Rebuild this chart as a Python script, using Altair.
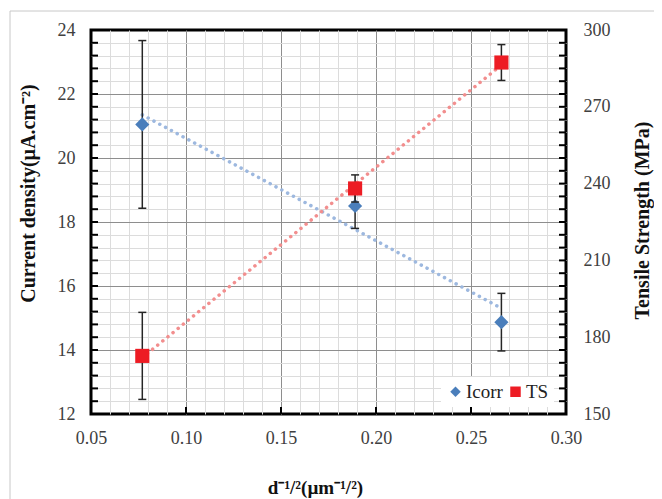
import altair as alt
import pandas as pd

# ---- data ----
x_vals = [0.077, 0.189, 0.266]
icorr_vals = [21.05, 18.5, 14.87]
icorr_err = [2.62, 0.7, 0.9]
ts_vals = [172.7, 238.1, 287.3]
ts_err = [17.0, 5.3, 7.0]

series_names = ["Icorr", "TS"]
series_colors = ["#4A7EBB", "#ED1C24"]
series_shapes = ["diamond", "square"]
trend_colors = ["#9DB8DF", "#F28E8E"]

x_ticks = [0.05, 0.06, 0.07, 0.08, 0.09, 0.10, 0.11, 0.12, 0.13, 0.14, 0.15,
           0.16, 0.17, 0.18, 0.19, 0.20, 0.21, 0.22, 0.23, 0.24, 0.25,
           0.26, 0.27, 0.28, 0.29, 0.30]
x_major_ticks = [0.10, 0.15, 0.20, 0.25]
y_left_ticks = [12, 12.4, 12.8, 13.2, 13.6, 14, 14.4, 14.8, 15.2, 15.6, 16,
                16.4, 16.8, 17.2, 17.6, 18, 18.4, 18.8, 19.2, 19.6, 20,
                20.4, 20.8, 21.2, 21.6, 22, 22.4, 22.8, 23.2, 23.6, 24]
y_right_ticks = [150, 180, 210, 240, 270, 300]
y_right_minor = [155, 160, 165, 170, 175, 185, 190, 195, 200, 205, 215, 220,
                 225, 230, 235, 245, 250, 255, 260, 265, 275, 280, 285, 290, 295]

FONT = "Liberation Serif"
MAJOR = "#8E8E8E"
MINOR = "#DCDCDC"
W, H = 475, 384

df_i = pd.DataFrame({
    "x": x_vals, "y": icorr_vals,
    "lo": [v - e for v, e in zip(icorr_vals, icorr_err)],
    "hi": [v + e for v, e in zip(icorr_vals, icorr_err)],
    "series": series_names[0],
})
df_t = pd.DataFrame({
    "x": x_vals, "y": ts_vals,
    "lo": [v - e for v, e in zip(ts_vals, ts_err)],
    "hi": [v + e for v, e in zip(ts_vals, ts_err)],
    "series": series_names[1],
})

x_axis = alt.Axis(
    values=x_ticks,
    labelExpr="round(datum.value*100) % 5 == 0 ? format(datum.value, '.2f') : ''",
    grid=True,
    gridColor={"condition": {"test": "round(datum.value*100) % 5 == 0", "value": MAJOR},
               "value": MINOR},
    gridOpacity={"condition": {"test": "datum.value < 0.055 || datum.value > 0.295", "value": 0},
                 "value": 1},
    gridWidth=1,
    domain=False, ticks=False,
    labelFont=FONT, labelFontSize=18, labelColor="#404040", labelPadding=15,
    labelFlush=False, labelOverlap=False,
    title="d⁻¹/²(µm⁻¹/²)",
    titleFont=FONT, titleFontSize=19, titleFontWeight="bold", titleColor="#111111",
    titleX=224, titleY=73, titleBaseline="middle", titleAlign="center",
)
x_scale = alt.Scale(domain=[0.05, 0.30], nice=False, zero=False)
x_enc = alt.X("x:Q", scale=x_scale, axis=x_axis)

yl_axis = alt.Axis(
    values=y_left_ticks,
    labelExpr="round(datum.value*10) % 20 == 0 ? format(datum.value, 'd') : ''",
    grid=True,
    gridColor={"condition": {"test": "round(datum.value*10) % 20 == 0", "value": MAJOR},
               "value": MINOR},
    gridOpacity={"condition": {"test": "datum.value < 12.1 || datum.value > 23.9", "value": 0},
                 "value": 1},
    gridWidth=1,
    domain=False, ticks=False,
    labelFont=FONT, labelFontSize=18, labelColor="#404040", labelPadding=16,
    labelFlush=False, labelOverlap=False,
    title="Current density(µA.cm⁻²)",
    titleFont=FONT, titleFontSize=20, titleFontWeight="bold", titleColor="#111111",
    titleAngle=270, titleX=-63, titleY=163, titleBaseline="middle", titleAlign="center",
)
yl_scale = alt.Scale(domain=[12, 24], nice=False, zero=False)

yr_axis = alt.Axis(
    orient="right",
    values=y_right_ticks,
    format="d",
    grid=False, domain=False, ticks=False,
    labelFont=FONT, labelFontSize=18, labelColor="#404040", labelPadding=17,
    labelFlush=False,
    title="Tensile Strength (MPa)",
    titleFont=FONT, titleFontSize=20, titleFontWeight="bold", titleColor="#111111",
    titleAngle=270, titleX=76, titleY=190, titleBaseline="middle", titleAlign="center",
)
yr_scale = alt.Scale(domain=[150, 300], nice=False, zero=False)

legend = alt.Legend(
    title=None, orient="none", legendX=350, legendY=347, direction="horizontal",
    fillColor="white", padding=5, labelFont=FONT, labelFontSize=19, labelColor="#222222",
    symbolSize=110, symbolStrokeWidth=0, labelOffset=1, columnPadding=3,
)
color_enc = alt.Color("series:N", scale=alt.Scale(domain=series_names, range=series_colors), legend=legend)
shape_enc = alt.Shape("series:N", scale=alt.Scale(domain=series_names, range=series_shapes), legend=legend)


def inner_ticks_y(values, y_scale, y_axis, xpos):
    return alt.Chart(pd.DataFrame({"v": values})).mark_tick(
        orient="horizontal", size=7, thickness=2, color="black", opacity=1
    ).encode(x=alt.value(xpos), y=alt.Y("v:Q", scale=y_scale, axis=y_axis))


def series_layer(df, y_scale, y_axis, trend_color, extra):
    trend = alt.Chart(df).transform_regression("x", "y").mark_line(
        color=trend_color, strokeDash=[0.1, 6.5], strokeCap="round", strokeWidth=3.5
    ).encode(x=x_enc, y=alt.Y("y:Q", scale=y_scale, axis=y_axis))
    bars = alt.Chart(df).mark_rule(color="#262626", strokeWidth=1.5).encode(
        x=x_enc, y=alt.Y("lo:Q", scale=y_scale, axis=y_axis), y2="hi:Q")
    cap_lo = alt.Chart(df).mark_tick(orient="horizontal", size=8, thickness=1.5, color="#262626", opacity=1).encode(
        x=x_enc, y=alt.Y("lo:Q", scale=y_scale, axis=y_axis))
    cap_hi = alt.Chart(df).mark_tick(orient="horizontal", size=8, thickness=1.5, color="#262626", opacity=1).encode(
        x=x_enc, y=alt.Y("hi:Q", scale=y_scale, axis=y_axis))
    pts = alt.Chart(df).mark_point(filled=True, size=200, opacity=1, strokeWidth=0).encode(
        x=x_enc, y=alt.Y("y:Q", scale=y_scale, axis=y_axis), color=color_enc, shape=shape_enc)
    return alt.layer(*extra, trend, bars, cap_lo, cap_hi, pts)


# inner tick marks on the frame
left_ticks = inner_ticks_y(y_left_ticks, yl_scale, yl_axis, 3.5)
bottom_ticks = alt.Chart(pd.DataFrame({"v": x_major_ticks})).mark_tick(
    orient="vertical", size=7, thickness=2, color="black", opacity=1
).encode(x=alt.X("v:Q", scale=x_scale, axis=x_axis), y=alt.value(H - 3.5))
right_ticks = inner_ticks_y(y_right_ticks + y_right_minor, yr_scale, yr_axis, W - 3.5)

left = series_layer(df_i, yl_scale, yl_axis, trend_colors[0], [left_ticks, bottom_ticks])
right = series_layer(df_t, yr_scale, yr_axis, trend_colors[1], [right_ticks])

# faint outer frame of the figure (decoration)
frame_df = pd.DataFrame({"k": [0]})
frame_left = alt.Chart(frame_df).mark_rule(color="#C8C8C8", strokeWidth=1, clip=False).encode(
    x=alt.value(-81), y=alt.value(-19), y2=alt.value(520))
frame_top = alt.Chart(frame_df).mark_rule(color="#C8C8C8", strokeWidth=1, clip=False).encode(
    x=alt.value(-81), x2=alt.value(700), y=alt.value(-19))

chart = alt.layer(frame_left, frame_top, left, right).resolve_scale(y="independent").properties(
    width=W, height=H,
    autosize=alt.AutoSizeParams(type="none"),
    padding={"left": 83, "top": 22, "right": 88, "bottom": 85},
    background="white",
).configure(font=FONT).configure_view(stroke="black", strokeWidth=3).configure_axis(
    labelFont=FONT, titleFont=FONT
).configure_legend(labelFont=FONT)

chart.save("out.html", embed_options={"renderer": "svg", "actions": False})
